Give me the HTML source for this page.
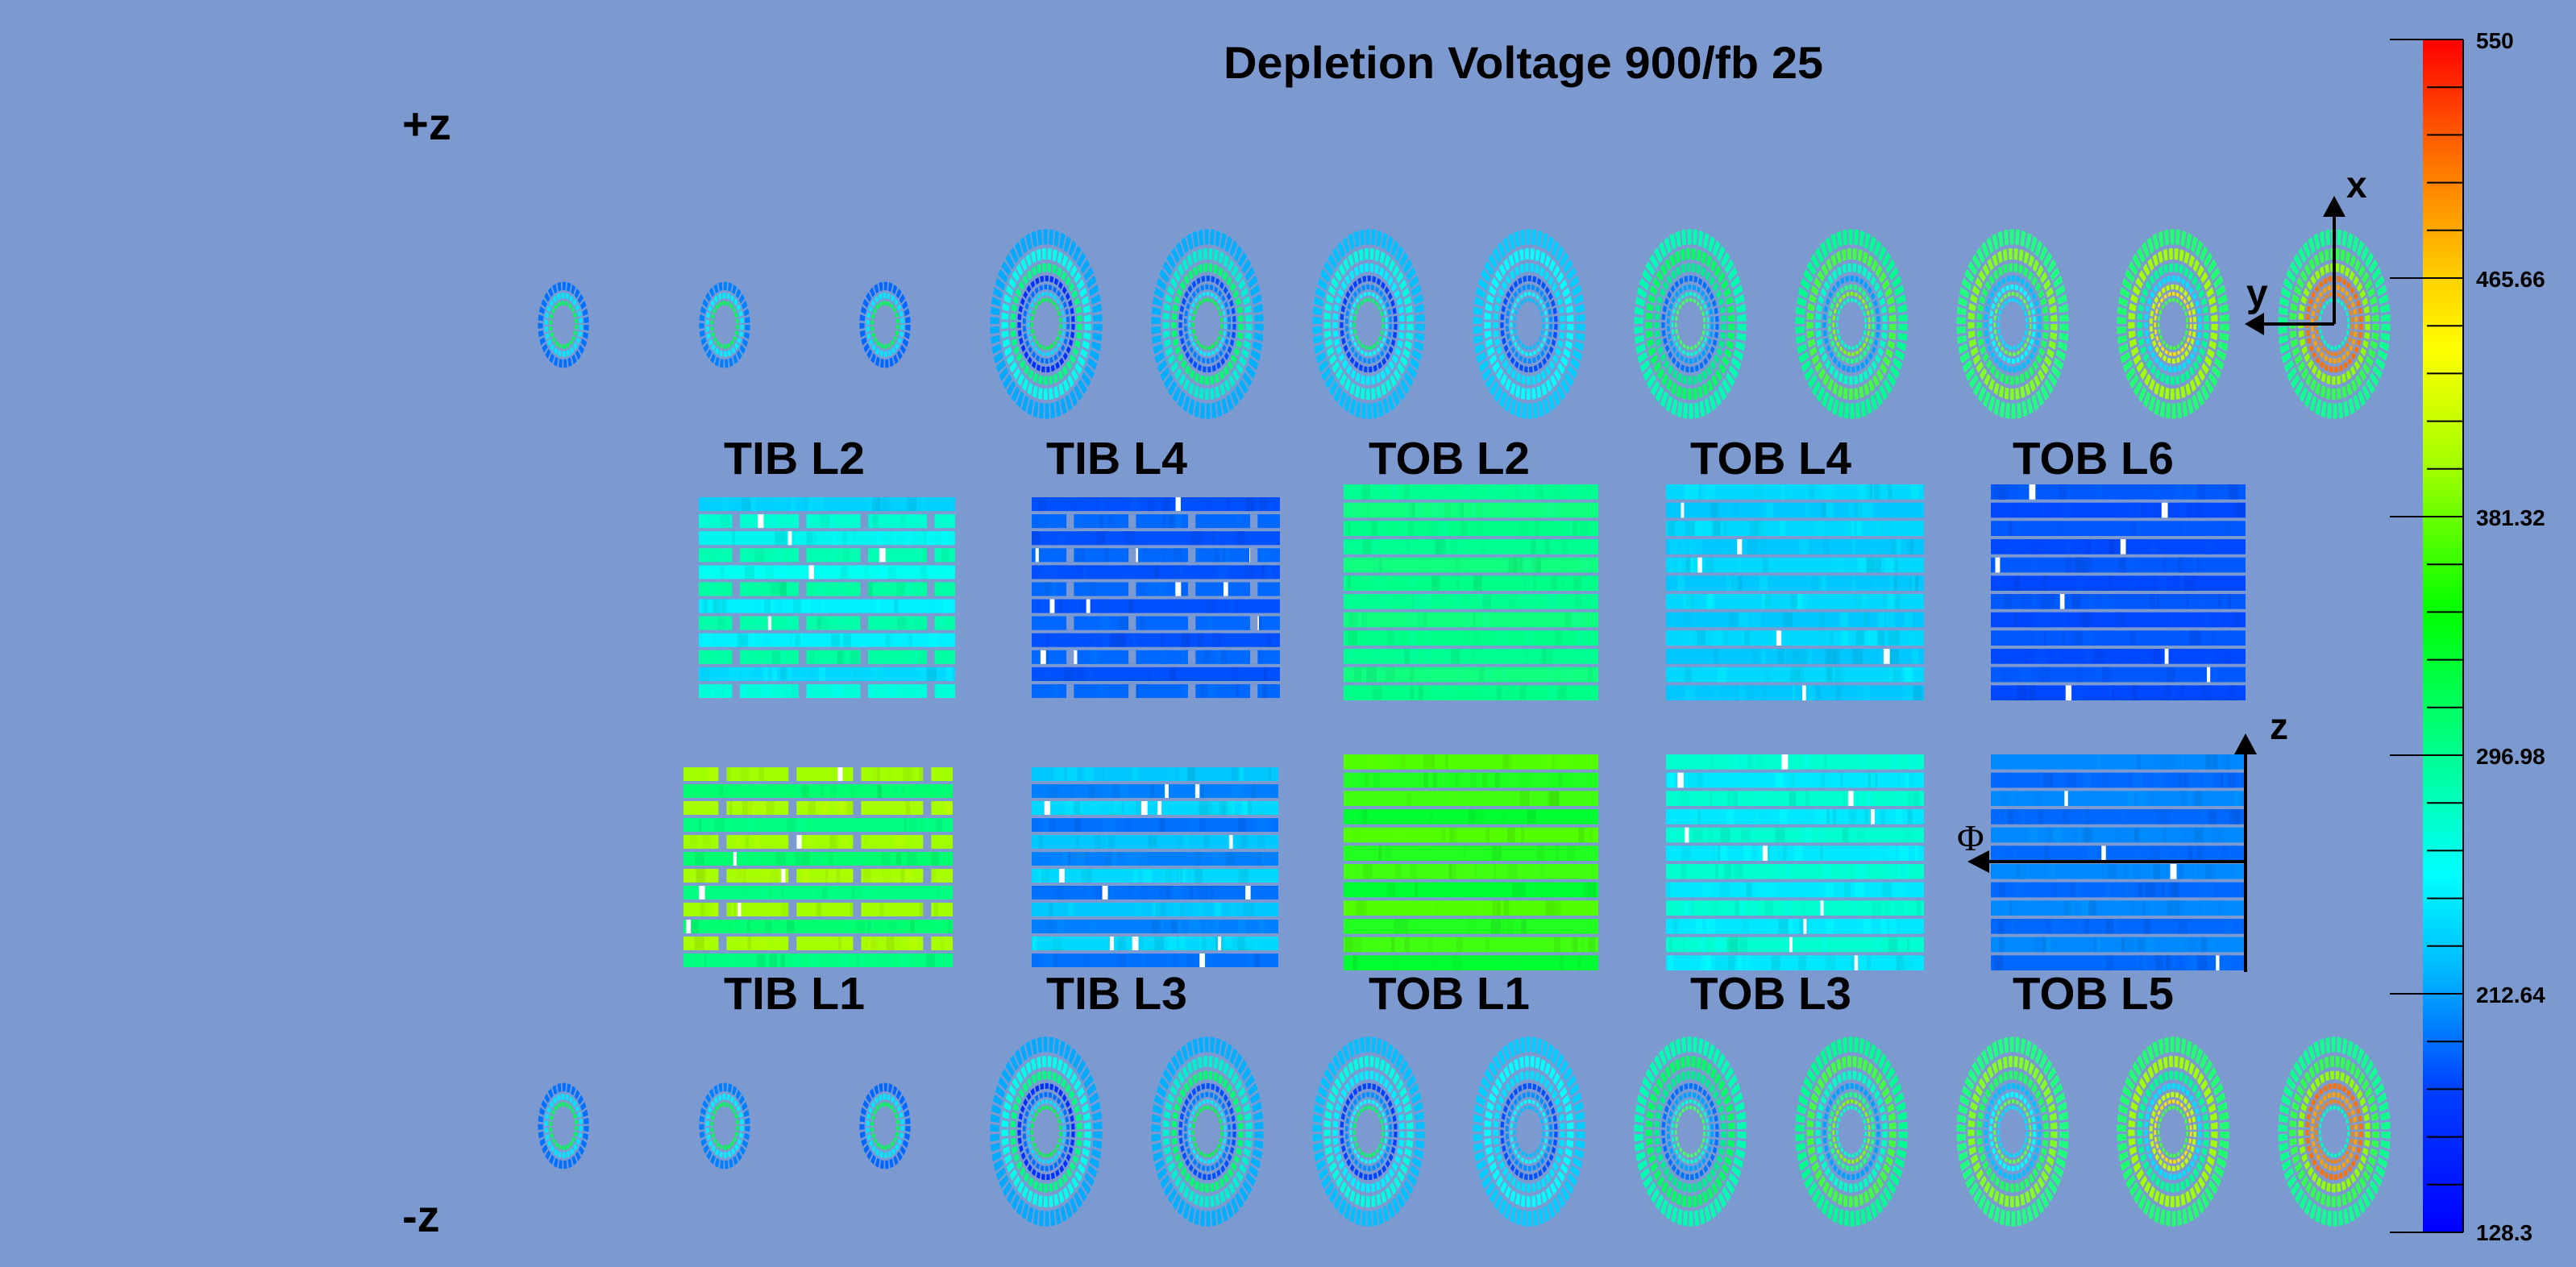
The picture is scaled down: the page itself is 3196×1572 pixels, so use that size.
<!DOCTYPE html>
<html><head><meta charset="utf-8"><style>
html,body{margin:0;padding:0;background:#7c9ad0;}
svg{display:block;}
text{font-family:"Liberation Sans",sans-serif;font-weight:bold;fill:#000;}
</style></head><body>
<svg id="s" width="3196" height="1572" viewBox="0 0 3196 1572" xmlns="http://www.w3.org/2000/svg">
<defs>
<linearGradient id="cb" x1="0" y1="1" x2="0" y2="0">
<stop offset="0" stop-color="#0000ff"/>
<stop offset="0.12" stop-color="#0040ff"/>
<stop offset="0.22" stop-color="#00b8ff"/>
<stop offset="0.3" stop-color="#00ffff"/>
<stop offset="0.4" stop-color="#00ff90"/>
<stop offset="0.52" stop-color="#00ff00"/>
<stop offset="0.64" stop-color="#a0ff00"/>
<stop offset="0.74" stop-color="#ffff00"/>
<stop offset="0.8" stop-color="#ffd000"/>
<stop offset="0.9" stop-color="#ff7000"/>
<stop offset="1" stop-color="#ff0000"/>
</linearGradient>
</defs>
<rect width="3196" height="1572" fill="#7c9ad0"/>
<g id="shapes"></g>
<text x="1518" y="97" font-size="56" textLength="744" lengthAdjust="spacingAndGlyphs">Depletion Voltage 900/fb 25</text>
<text x="499" y="173" font-size="56">+z</text>
<text x="499" y="1528" font-size="56">-z</text>
<g font-size="57">
<text x="898" y="588" textLength="175" lengthAdjust="spacingAndGlyphs">TIB L2</text>
<text x="1298" y="588" textLength="175" lengthAdjust="spacingAndGlyphs">TIB L4</text>
<text x="1698" y="588" textLength="200" lengthAdjust="spacingAndGlyphs">TOB L2</text>
<text x="2097" y="588" textLength="200" lengthAdjust="spacingAndGlyphs">TOB L4</text>
<text x="2497" y="588" textLength="200" lengthAdjust="spacingAndGlyphs">TOB L6</text>
<text x="898" y="1252" textLength="175" lengthAdjust="spacingAndGlyphs">TIB L1</text>
<text x="1298" y="1252" textLength="175" lengthAdjust="spacingAndGlyphs">TIB L3</text>
<text x="1698" y="1252" textLength="200" lengthAdjust="spacingAndGlyphs">TOB L1</text>
<text x="2097" y="1252" textLength="200" lengthAdjust="spacingAndGlyphs">TOB L3</text>
<text x="2497" y="1252" textLength="200" lengthAdjust="spacingAndGlyphs">TOB L5</text>
</g>
<g stroke="#000" stroke-width="4" fill="none">
<line x1="2896" y1="402" x2="2896" y2="262"/>
<line x1="2896" y1="402" x2="2802" y2="402"/>
<line x1="2786" y1="1206" x2="2786" y2="930"/>
<line x1="2786" y1="1069" x2="2456" y2="1069"/>
</g>
<polygon points="2896,243 2882,269 2910,269" fill="#000"/>
<polygon points="2785,402 2809,388 2809,416" fill="#000"/>
<polygon points="2786,910 2772,936 2800,936" fill="#000"/>
<polygon points="2441,1069 2468,1055 2468,1083" fill="#000"/>
<text x="2911" y="245" font-size="46">x</text>
<text x="2787" y="380" font-size="48">y</text>
<text x="2816" y="917" font-size="46">z</text>
<text x="2428" y="1055" font-size="46" style="font-family:'Liberation Serif',serif;font-weight:normal">Φ</text>
<rect x="3006" y="49" width="50" height="1480" fill="url(#cb)"/>
<g stroke="#000" stroke-width="2">
<line x1="3056" y1="49" x2="3056" y2="1529"/>
<line x1="3006" y1="1529" x2="3056" y2="1529"/>
<line x1="2965" y1="49" x2="3056" y2="49"/>
<line x1="2965" y1="345" x2="3056" y2="345"/>
<line x1="2965" y1="641" x2="3056" y2="641"/>
<line x1="2965" y1="937" x2="3056" y2="937"/>
<line x1="2965" y1="1233" x2="3056" y2="1233"/>
<line x1="2965" y1="1529" x2="3056" y2="1529"/>
</g>
<g id="minor" stroke="#000" stroke-width="2"></g>
<g font-size="28">
<text x="3072" y="60">550</text>
<text x="3072" y="356">465.66</text>
<text x="3072" y="652">381.32</text>
<text x="3072" y="948">296.98</text>
<text x="3072" y="1244">212.64</text>
<text x="3072" y="1539">128.3</text>
</g>
</svg>
<script>
(function(){
var NS="http://www.w3.org/2000/svg";
var G=document.getElementById("shapes");
var seed=12345;function rnd(){seed=(seed*1103515245+12345)%2147483648;return seed/2147483648;}
function el(n,a,p){var e=document.createElementNS(NS,n);for(var k in a)e.setAttribute(k,a[k]);(p||G).appendChild(e);return e;}
var M=document.getElementById("minor");
for(var i=0;i<25;i++){var y=49+i*59.2;if(i%5)el("line",{x1:3011,y1:y,x2:3056,y2:y},M);}
var BIG=[[58,70],[47,56],[38,45],[31,36],[25,29.5],[20.5,24],[16,19.5]];
var SMALL=[[25,32],[19,24],[14,18]];
function ell(cx,cy,rings,cols){
 var g=el("g",{transform:"translate("+cx+","+cy+") scale(1,1.69)"});
 for(var i=0;i<rings.length;i++){
  var r=(rings[i][0]+rings[i][1])/2,w=rings[i][1]-rings[i][0]-0.8;
  var N=Math.round(r*0.75)+10,c=2*Math.PI*r,u=c/N;
  el("circle",{cx:0,cy:0,r:r,fill:"none",stroke:cols[i],"stroke-width":w,"stroke-dasharray":(u*0.7)+" "+(u*0.3)},g);
 }
}
var sx=[699,899,1098];
var scT=[["#0070ff","#00e8ff","#00ff50"],["#0080ff","#00f0ff","#00ff50"],["#0068ff","#00e8ff","#00ff50"]];
var bx=[1298,1498,1698,1897,2097,2297,2497,2696,2896];
var bc=[
["#00aaff","#00ffee","#00ff80","#0030ff","#0070ff","#00e0ff","#00ff40"],
["#00b0ff","#00f0d0","#00ff70","#0050ff","#0080ff","#00f0ff","#00ff40"],
["#00c0ff","#00ffe0","#00f0ff","#0040ff","#0090ff","#00ffff","#00ff60"],
["#00ccff","#00ffff","#00e0ff","#0050ff","#0090ff","#00ffff","#00c0ff"],
["#00ffb0","#00ff60","#00ee90","#0070ff","#00a0ff","#00ffd0","#40ff60"],
["#00ff90","#40ff40","#00ffc0","#00a0ff","#20ff80","#80ff00","#00ffc0"],
["#20ff80","#80ff20","#20ff60","#00c0ff","#00ffff","#60ff40","#00e0ff"],
["#20ff70","#a0ff00","#00ff90","#00e0ff","#c0ff00","#ffe000","#40ff40"],
["#10ff90","#30ff50","#90ff00","#ff7000","#ffa000","#ff8000","#00ffc0"]];
for(var k=0;k<3;k++){ell(sx[k],403,SMALL,scT[k]);ell(sx[k],1397,SMALL,scT[k]);}
for(var k=0;k<9;k++){ell(bx[k],402,BIG,bc[k]);ell(bx[k],1404,BIG,bc[k]);}
function box(x,y,w,h,rowCols,segIdx,segs,whites){
 var n=12,gap=4,rh=(h-gap*(n-1))/n;
 for(var i=0;i<n;i++){
  var ry=y+i*(rh+gap),c=rowCols[i%rowCols.length];
  el("rect",{x:x,y:ry,width:w,height:rh,fill:c});
  for(var j=0;j<18;j++){var bw=3+rnd()*10;el("rect",{x:x+rnd()*(w-bw),y:ry,width:bw,height:rh,fill:c,opacity:0.5,style:"filter:brightness("+(0.85+rnd()*0.3)+")"});}
  var nw=Math.floor(rnd()*(whites||0)*2);
  for(var j=0;j<nw;j++){el("rect",{x:x+rnd()*(w-6),y:ry,width:4+rnd()*4,height:rh,fill:"#fff"});}
  if(segIdx && (i%2)==segIdx-1){for(var s=0;s<segs.length;s++){el("rect",{x:x+segs[s]*w,y:ry,width:w*0.03,height:rh,fill:"#7c9ad0"});}}
 }
}
var tibSeg=[0.13,0.39,0.63,0.89];
box(867,617,318,249,["#00d0ff","#00ffd0","#00f4f0","#00ffb0","#00fff0","#00ffa0","#00f0ff","#00ffa8","#00f0ff","#00ffa0","#00d8ff","#00ffd8"],2,tibSeg,1);
box(1280,617,308,249,["#0050ff","#0068ff"],2,[0.14,0.39,0.63,0.88],2);
box(1667,601,316,268,["#00ff90","#10ff80","#00ff88"],0,[],0.5);
box(2067,601,320,268,["#00d8ff","#00c8ff"],0,[],1);
box(2470,601,316,268,["#0058ff","#0048ff"],0,[],1);
box(848,952,334,248,["#a0ff00","#00ff70","#a8ff00","#00ff80"],1,[0.13,0.39,0.63,0.89],1);
box(1280,952,306,248,["#00c8ff","#0080ff","#00d8ff","#0070ff"],0,[],2);
box(1667,936,316,268,["#50ff00","#20ff20","#40ff10","#00ff30"],0,[],0.5);
box(2067,936,320,268,["#00ffd0","#00e8ff"],0,[],1);
box(2470,936,316,268,["#0088ff","#0068ff"],0,[],1);
})();
</script>
</body></html>
